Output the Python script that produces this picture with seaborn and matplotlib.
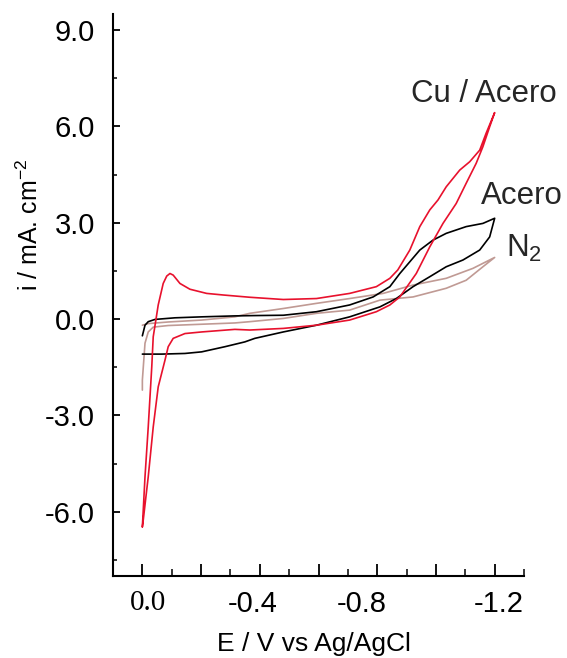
import numpy as np
import pandas as pd
import matplotlib
matplotlib.use("Agg")
import matplotlib.pyplot as plt
import matplotlib.transforms as mtransforms
import seaborn as sns

# Cyclic voltammograms: potential E (V vs Ag/AgCl) and current density i (mA cm^-2)
cu_E = [0.0, -0.009, -0.020, -0.032, -0.037, -0.046, -0.054, -0.071, -0.083, -0.094,
        -0.105, -0.128, -0.162, -0.219, -0.276, -0.366, -0.480, -0.593, -0.706, -0.797,
        -0.843, -0.870, -0.911, -0.945, -0.979, -1.007, -1.035, -1.081, -1.115, -1.149,
        -1.171, -1.200,
        -1.183, -1.160, -1.137, -1.103, -1.069, -1.024, -0.979, -0.933, -0.877, -0.843,
        -0.797, -0.706, -0.593, -0.480, -0.366, -0.315, -0.202, -0.145, -0.105, -0.088,
        -0.077, -0.054, -0.037, -0.020, -0.003, 0.0]
cu_i = [-6.47, -4.91, -3.36, -1.49, -0.55, -0.03, 0.44, 1.11, 1.34, 1.42,
        1.37, 1.11, 0.93, 0.80, 0.75, 0.68, 0.61, 0.64, 0.80, 1.01,
        1.27, 1.53, 2.15, 2.88, 3.40, 3.71, 4.12, 4.64, 4.90, 5.26,
        5.79, 6.43,
        5.99, 5.37, 4.85, 4.23, 3.60, 2.98, 2.25, 1.42, 0.69, 0.44,
        0.23, -0.03, -0.19, -0.29, -0.34, -0.32, -0.40, -0.45, -0.60, -0.86,
        -1.28, -2.11, -3.36, -4.91, -6.26, -6.47]

acero_E = [0.0, -0.009, -0.020, -0.043, -0.111, -0.202, -0.315, -0.383, -0.480, -0.593,
           -0.706, -0.786, -0.843, -0.877, -0.945, -0.990, -1.035, -1.103, -1.160, -1.200,
           -1.183, -1.149, -1.092, -1.035, -0.979, -0.922, -0.865, -0.809, -0.706, -0.593,
           -0.480, -0.383, -0.349, -0.281, -0.202, -0.145, -0.066, 0.0]
acero_i = [-0.52, -0.19, -0.08, -0.01, 0.04, 0.07, 0.10, 0.11, 0.12, 0.23,
           0.44, 0.69, 1.01, 1.42, 2.15, 2.46, 2.67, 2.88, 2.98, 3.14,
           2.56, 2.15, 1.84, 1.63, 1.32, 1.01, 0.64, 0.38, 0.07, -0.19,
           -0.40, -0.60, -0.71, -0.86, -1.02, -1.07, -1.09, -1.09]

n2_E = [0.0, -0.020, -0.088, -0.202, -0.315, -0.366, -0.480, -0.593, -0.706, -0.820,
        -0.922, -1.035, -1.126, -1.200,
        -1.160, -1.103, -1.035, -0.922, -0.809, -0.706, -0.593, -0.480, -0.366, -0.315,
        -0.202, -0.088, -0.037, -0.020, -0.009, 0.0, 0.0]
n2_i = [-0.19, -0.14, -0.09, -0.03, 0.07, 0.18, 0.33, 0.49, 0.64, 0.80,
        1.06, 1.27, 1.58, 1.92,
        1.63, 1.21, 0.96, 0.69, 0.59, 0.28, 0.18, 0.02, -0.08, -0.12,
        -0.16, -0.20, -0.25, -0.40, -0.75, -1.90, -2.21]

series_names = ["N$_2$", "Acero", "Cu / Acero"]
series_colors = ["#c09a94", "#000000", "#e8112d"]

x_ticks = [0.0, -0.2, -0.4, -0.6, -0.8, -1.0, -1.2]
x_tick_labels = ["0.0", "", "-0.4", "", "-0.8", "", "-1.2"]
y_ticks = [-6.0, -3.0, 0.0, 3.0, 6.0, 9.0]
y_tick_labels = ["-6.0", "-3.0", "0.0", "3.0", "6.0", "9.0"]

frames = []
for name, E, i in [(series_names[0], n2_E, n2_i),
                   (series_names[1], acero_E, acero_i),
                   (series_names[2], cu_E, cu_i)]:
    frames.append(pd.DataFrame({"E": E, "i": i, "serie": name}))
df = pd.concat(frames, ignore_index=True)

sns.set_style("ticks")
plt.rcParams["font.family"] = ["Liberation Sans", "DejaVu Sans"]
plt.rcParams["mathtext.fontset"] = "custom"
plt.rcParams["mathtext.rm"] = "Liberation Sans"
plt.rcParams["mathtext.it"] = "Liberation Sans:italic"
plt.rcParams["axes.unicode_minus"] = False

fig = plt.figure(figsize=(5.67, 6.58), dpi=100)
ax = fig.add_axes([0.1993, 0.1246, 0.7249, 0.8541])

sns.lineplot(data=df, x="E", y="i", hue="serie", hue_order=series_names,
             palette=dict(zip(series_names, series_colors)), sort=False,
             estimator=None, legend=False, linewidth=1.2, ax=ax)

ax.set_xlim(0.1, -1.3)
ax.set_ylim(-8.0, 9.5)

ax.set_xticks(x_ticks)
ax.set_xticklabels(x_tick_labels)
ax.set_xticks(np.round(np.arange(-1.3, 0.05, 0.1), 2), minor=True)
ax.set_yticks(y_ticks)
ax.set_yticklabels(y_tick_labels)
ax.set_yticks([-7.5, -4.5, -1.5, 1.5, 4.5, 7.5], minor=True)

for side in ["top", "right"]:
    ax.spines[side].set_visible(False)
for side in ["left", "bottom"]:
    ax.spines[side].set_linewidth(1.5)
    ax.spines[side].set_color("black")

ax.tick_params(axis="x", which="major", direction="in", length=9, width=1.3,
               labelsize=21, pad=10, colors="black")
ax.tick_params(axis="x", which="minor", direction="in", length=5, width=1.3)
ax.tick_params(axis="y", which="major", direction="in", length=5, width=1.3,
               labelsize=21, pad=13, colors="black")
ax.tick_params(axis="y", which="minor", direction="in", length=3, width=1.3)

# the origin label uses a serif face; the other labels sit slightly off-centre
xlabels = ax.get_xticklabels()
xlabels[0].set_fontfamily("Liberation Serif")
label_shift_px = {0: 6, 2: -7, 4: -15, 6: 4}
for idx, dx in label_shift_px.items():
    xlabels[idx].set_transform(xlabels[idx].get_transform() +
                               mtransforms.ScaledTranslation(dx / 100, 0, fig.dpi_scale_trans))

ax.set_xlabel("E / V vs Ag/AgCl", fontsize=19, color="black")
ax.xaxis.label.set_va("baseline")
ax.xaxis.set_label_coords(0.49, -0.1335)
ax.set_ylabel("i / mA. cm$^{-2}$", fontsize=18, color="black")
ax.yaxis.set_label_coords(-0.17, 0.625)

ax.text(-1.41, 6.76, "Cu / Acero", fontsize=22.5, ha="right", va="baseline")
ax.text(-1.431, 3.58, "Acero", fontsize=22.5, ha="right", va="baseline")
ax.text(-1.24, 1.93, "N$_2$", fontsize=22.5, ha="left", va="baseline")

fig.savefig("out.png", dpi=100)
